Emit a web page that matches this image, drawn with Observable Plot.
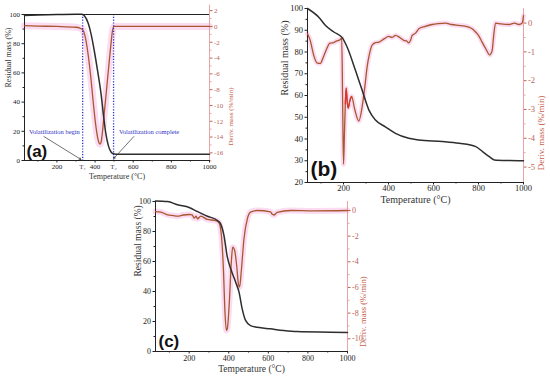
<!DOCTYPE html>
<html><head><meta charset="utf-8">
<script src="https://cdn.jsdelivr.net/npm/d3@7"></script>
<script src="https://cdn.jsdelivr.net/npm/@observablehq/plot@0.6"></script>
<style>
body{margin:0;background:#fff;width:550px;height:377px;position:relative;overflow:hidden}
.p{position:absolute}
</style>
</head><body>
<div id="pa" class="p" style="left:0;top:0"></div>
<div id="pb" class="p" style="left:275px;top:0"></div>
<div id="pc" class="p" style="left:125px;top:190px"></div>
<script>
// ---------- data ----------
const xTicks = [200, 400, 600, 800, 1000];
const xMinor = [100, 300, 500, 700, 900];

// panel (a)
const massA_T = [30, 100, 200, 300, 330, 345, 365, 380, 396, 415, 431, 445, 457, 470, 483, 495, 510, 600, 800, 1000];
const massA_V = [99.4, 99.6, 100, 100.2, 100.1, 99, 93.6, 86, 75, 60, 46, 30, 18, 10, 6, 4.6, 4.3, 4.2, 4.2, 4.2];
const derivA_T = [30, 100, 200, 300, 320, 335, 350, 365, 378, 390, 402, 413, 420, 426, 432, 439, 448, 457, 466, 474, 483, 491, 500, 600, 800, 1000];
const derivA_V = [0.1, 0.05, 0, -0.1, -0.2, -0.4, -1.5, -3.8, -6.5, -9.5, -12.2, -14, -14.7, -14.9, -14.6, -13.3, -11, -8.8, -6.5, -4.5, -2.3, -0.6, 0, 0, 0, 0];
const leftTicksA = [0, 20, 40, 60, 80, 100];
const leftMinorA = [10, 30, 50, 70, 90];
const rightTicksA = [2, 0, -2, -4, -6, -8, -10, -12, -14, -16];
const rightMinorA = [1, -1, -3, -5, -7, -9, -11, -13, -15, -17];
const tempMarksA = [335, 497];
const tempLabelsA = ["T\u2081", "T\u2082"];
const noteTextA = ["Volatilization begin", "Volatilization complete"];
const noteTA = [53, 525];
const noteLA = [19.9, 19.9];
const arrowT1 = [132, 603];
const arrowL1 = [16.4, 16.4];
const arrowT2 = [326, 498];
const arrowL2 = [0.7, 1.4];

// panel (b)
const massB_T = [40, 90, 120, 157, 194, 216, 253, 283, 313, 342, 386, 431, 490, 535, 639, 714, 788, 818, 848, 870, 937, 1000];
const massB_V = [100, 96, 92.2, 89.2, 86.6, 82.3, 71.6, 62.4, 53.3, 48.7, 45.6, 42.6, 40.3, 39.5, 38.8, 38, 36.5, 34.2, 31.9, 30.4, 30.1, 30];
const derivB_T = [40, 52, 67, 82, 97, 111, 125, 140, 155, 170, 185, 192, 196, 200, 204, 208, 212, 216, 221, 228, 236, 250, 268, 283, 295, 305, 316, 327, 342, 357, 380, 401, 415, 431, 450, 468, 480, 490, 498, 505, 520, 535, 560, 594, 620, 653, 680, 712, 735, 757, 772, 787, 802, 816, 833, 850, 856, 861, 868, 876, 900, 935, 960, 980, 994, 1000];
const derivB_V = [-0.37, -0.6, -1.1, -1.38, -1.4, -1.17, -0.9, -0.7, -0.68, -0.62, -0.58, -0.52, -2.6, -4.9, -3.9, -2.8, -2.26, -2.7, -2.95, -2.7, -2.55, -3.0, -3.4, -2.9, -2.2, -1.52, -1.05, -0.77, -0.68, -0.66, -0.55, -0.46, -0.5, -0.43, -0.5, -0.6, -0.62, -0.69, -0.6, -0.43, -0.35, -0.2, -0.12, -0.05, -0.02, 0, -0.05, -0.08, -0.1, -0.14, -0.2, -0.31, -0.45, -0.66, -0.9, -1.11, -1.05, -0.94, -0.4, 0, -0.03, -0.05, 0, -0.05, 0, 0.26];
const leftTicksB = [20, 30, 40, 50, 60, 70, 80, 90, 100];
const leftMinorB = [25, 35, 45, 55, 65, 75, 85, 95];
const rightTicksB = [0, -1, -2, -3, -4, -5];
const rightMinorB = [-0.5, -1.5, -2.5, -3.5, -4.5];

// panel (c)
const massC_T = [30, 91, 141, 200, 242, 292, 343, 359, 376, 393, 410, 435, 452, 468, 485, 510, 544, 611, 678, 745, 913, 1000];
const massC_V = [100.4, 100, 97.8, 96, 93.3, 90.2, 87.3, 85.1, 77.3, 62.9, 55.1, 46.2, 39.6, 28.4, 20.7, 17.3, 16.2, 15.1, 14, 13.3, 12.9, 12.7];
const derivC_T = [30, 57, 91, 120, 141, 170, 200, 215, 225, 235, 242, 259, 292, 334, 351, 363, 373, 381, 388, 393, 403, 413, 420, 430, 440, 450, 455, 463, 477, 494, 510, 544, 611, 620, 628, 645, 712, 829, 1000];
const derivC_V = [-0.08, -0.13, -0.34, -0.4, -0.44, -0.35, -0.31, -0.35, -0.6, -0.45, -0.65, -0.44, -0.7, -0.78, -0.96, -1.95, -4.55, -7.92, -9.35, -9.2, -7.14, -4.03, -2.86, -3.12, -4.29, -5.84, -5.97, -4.8, -2.2, -0.65, -0.13, 0, -0.1, -0.3, -0.35, -0.15, 0, -0.03, 0];
const leftTicksC = [0, 20, 40, 60, 80, 100];
const leftMinorC = [10, 30, 50, 70, 90];
const rightTicksC = [0, -2, -4, -6, -8, -10];
const rightMinorC = [-1, -3, -5, -7, -9];

// ---------- styling ----------
const BROWN = "#a9572f";
const HALO = "#fbdcf2";
const PINK_AXIS = "#e7a4a4";
const RIGHT_TXT = "#b8645a";
const RIGHT_TITLE = "#c7604b";
const MASS = "#2e2e2e";
const BLUE = "#2f2fc4";

function fmt(v) { const r = Math.round(v * 100) / 100; return r === 0 ? "0" : String(r); }

function panel(o) {
  const toL = v => o.a + o.b * v;
  const fromL = L => (L - o.a) / o.b;
  const mass = o.massT.map((t, i) => ({t, v: o.massV[i]}));
  const deriv = o.derivT.map((t, i) => ({t, v: toL(o.derivV[i])}));
  const fs = o.fs;
  const marks = [
    Plot.line(deriv, {x: "t", y: "v", stroke: HALO, strokeWidth: o.haloW, curve: "monotone-x"}),
    Plot.ruleX([o.x[1]], {y1: toL(o.rRange[0]), y2: toL(o.rRange[1]), stroke: PINK_AXIS, strokeWidth: 1}),
    Plot.ruleX([o.x[0]], {y1: o.y[0], y2: o.y[1], stroke: "#222", strokeWidth: 1}),
    Plot.ruleY([o.y[0]], {stroke: "#222", strokeWidth: 1}),
    Plot.axisX(xTicks, {tickSize: 2.5, tickPadding: o.xpad, label: null, fontSize: fs, color: "#222", tickFormat: d => String(d)}),
    Plot.axisX(xMinor, {tickSize: 1.5, tickFormat: () => "", label: null, color: "#222"}),
    Plot.axisY(o.lTicks, {anchor: "left", tickSize: 2.5, tickPadding: 2, label: null, fontSize: fs, color: "#222", tickFormat: d => String(d)}),
    Plot.axisY(o.lMinor, {anchor: "left", tickSize: 1.5, tickFormat: () => "", label: null, color: "#222"}),
    Plot.axisY(o.rTicks.map(toL), {anchor: "right", tickSize: 2.5, tickPadding: 2, label: null, fontSize: fs, color: RIGHT_TXT, tickFormat: d => fmt(fromL(d))}),
    Plot.axisY(o.rMinor.map(toL), {anchor: "right", tickSize: 1.5, tickFormat: () => "", label: null, color: PINK_AXIS}),
    Plot.line(deriv, {x: "t", y: "v", stroke: BROWN, strokeWidth: 1.3, curve: "monotone-x"}),
    Plot.line(mass, {x: "t", y: "v", stroke: MASS, strokeWidth: 1.5, curve: "monotone-x"}),
    Plot.text(["Residual mass (%)"], {frameAnchor: "left", dx: o.ldx, rotate: -90, text: d => d, fontSize: o.tfs, fontWeight: "normal", fill: "#333", lineAnchor: "middle"}),
    Plot.text(["Deriv. mass (%/min)"], {frameAnchor: "right", dx: o.rdx, rotate: -90, text: d => d, fontSize: o.rfs, fontWeight: "normal", fill: RIGHT_TITLE, lineAnchor: "middle"}),
    Plot.text(["Temperature (\u00b0C)"], {frameAnchor: "bottom", dy: o.bdy, text: d => d, fontSize: o.tfs, fontWeight: "normal", fill: "#333", lineAnchor: "middle"}),
    Plot.text([o.tag], {frameAnchor: "bottom-left", dx: o.tagDx, dy: o.tagDy, text: d => d, textAnchor: "start", lineAnchor: "bottom", fontSize: o.tagFs, fontWeight: "bold", fontFamily: "Liberation Sans, Arial, sans-serif", fill: "#111"})
  ];
  if (o.extra) marks.push(...o.extra(toL));
  if (o.topLine) marks.push(Plot.ruleY([o.y[1]], {stroke: "#222", strokeWidth: 1}));
  return Plot.plot({
    width: o.width, height: o.height,
    marginLeft: o.m[0], marginRight: o.m[1], marginTop: o.m[2], marginBottom: o.m[3],
    x: {domain: o.x},
    y: {domain: o.y},
    style: {fontFamily: "Liberation Serif, Times New Roman, serif", fontSize: fs + "px", background: "transparent", overflow: "visible", color: "#222"},
    marks
  });
}

// panel (a)
document.getElementById("pa").append(panel({
  width: 240, height: 185, m: [24, 31, 14, 25], x: [30, 1000], y: [0, 100],
  a: 91.8, b: 5.41, rRange: [-17, 2.7],
  massT: massA_T, massV: massA_V, derivT: derivA_T, derivV: derivA_V,
  lTicks: leftTicksA, lMinor: leftMinorA, rTicks: rightTicksA, rMinor: rightMinorA,
  fs: 7, tfs: 8, rfs: 7, ldx: -16, rdx: 21, bdy: 15.5, haloW: 7, xpad: 1,
  tag: "(a)", tagDx: 2, tagDy: -4, tagFs: 17, topLine: true,
  extra: (toL) => {
    const notes = noteTextA.map((s, i) => ({s, t: noteTA[i], L: noteLA[i]}));
    const arrows = arrowT1.map((t, i) => ({x1: t, y1: arrowL1[i], x2: arrowT2[i], y2: arrowL2[i]}));
    const tl = tempMarksA.map((t, i) => ({t, s: tempLabelsA[i]}));
    return [
      Plot.ruleX(tempMarksA, {stroke: BLUE, strokeWidth: 1.3, strokeDasharray: "1.2,1.6"}),
      Plot.arrow(arrows, {x1: "x1", y1: "y1", x2: "x2", y2: "y2", stroke: "#333", strokeWidth: 0.7, headLength: 4}),
      Plot.text(notes, {x: "t", y: "L", text: "s", textAnchor: "start", fill: BLUE, fontSize: 6.5}),
      Plot.text(tl, {x: "t", y: 0, text: "s", dy: 3.5, lineAnchor: "top", fill: "#444", fontSize: 7})
    ];
  }
}));

// panel (b)
document.getElementById("pb").append(panel({
  width: 275, height: 205, m: [32, 27, 8, 23], x: [40, 1000], y: [20, 100],
  a: 93.3, b: 13.24, rRange: [-5.55, 0.5],
  massT: massB_T, massV: massB_V, derivT: derivB_T, derivV: derivB_V,
  lTicks: leftTicksB, lMinor: leftMinorB, rTicks: rightTicksB, rMinor: rightMinorB,
  fs: 8.5, tfs: 10, rfs: 9, ldx: -23, rdx: 18, bdy: 17.5, haloW: 5, xpad: 0,
  tag: "(b)", tagDx: 3, tagDy: -7, tagFs: 21,
  extra: (toL) => {
    const red = derivB_T.map((t, i) => ({t, v: toL(derivB_V[i])})).filter(d => d.t >= 206 && d.t <= 238);
    return [Plot.line(red, {x: "t", y: "v", stroke: "#e0302a", strokeWidth: 1.2, curve: "monotone-x"})];
  }
}));

// panel (c)
document.getElementById("pc").append(panel({
  width: 250, height: 187, m: [30, 28, 11, 26], x: [30, 1000], y: [0, 100],
  a: 94, b: 8.55, rRange: [-11, 0.7],
  massT: massC_T, massV: massC_V, derivT: derivC_T, derivV: derivC_V,
  lTicks: leftTicksC, lMinor: leftMinorC, rTicks: rightTicksC, rMinor: rightMinorC,
  fs: 8, tfs: 9.5, rfs: 8.5, ldx: -18, rdx: 16, bdy: 17.5, haloW: 6, xpad: 1,
  tag: "(c)", tagDx: 3, tagDy: -5, tagFs: 17
}));
</script>
</body></html>
